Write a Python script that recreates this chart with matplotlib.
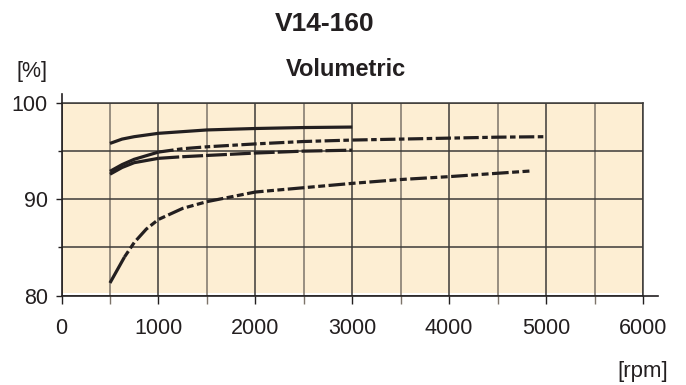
import matplotlib
matplotlib.use("Agg")
import matplotlib.pyplot as plt
from matplotlib.ticker import MultipleLocator
import numpy as np

plt.rcParams['font.family'] = ['Liberation Sans', 'DejaVu Sans']
plt.rcParams['lines.scale_dashes'] = False

# ---- data ----
rpm_a = [500, 625, 750, 1000, 1500, 2000, 2500, 3000]
eff_a = [95.8, 96.25, 96.5, 96.85, 97.2, 97.35, 97.45, 97.5]

rpm_b = [500, 625, 750, 1000, 1250, 1500, 2000, 2500, 3000, 3500, 4000, 4500, 5000]
eff_b = [92.9, 93.6, 94.15, 94.9, 95.25, 95.45, 95.75, 96.0, 96.15, 96.25, 96.35, 96.45, 96.5]

rpm_c = [500, 625, 750, 1000, 1250, 1500, 2000, 2500, 3000]
eff_c = [92.6, 93.3, 93.8, 94.25, 94.42, 94.55, 94.8, 95.0, 95.1]

rpm_d = [500, 550, 650, 750, 875, 1000, 1250, 1500, 2000, 2500, 3000, 3500, 4000, 4500, 4860]
eff_d = [81.3, 82.2, 84.0, 85.5, 86.9, 87.9, 89.05, 89.75, 90.75, 91.2, 91.65, 92.05, 92.35, 92.7, 92.95]

x_ticks = [0, 1000, 2000, 3000, 4000, 5000, 6000]
y_ticks = [80, 90, 100]

title = "V14-160"
subtitle = "Volumetric"
y_unit = "[%]"
x_unit = "[rpm]"

# ---- style ----
W, H = 686, 385
ink = "#231f20"
beige = "#fdeed3"
grid_dark = "#3c3a38"
grid_light = "#7d746a"
lw_curve = 2.3

fig = plt.figure(figsize=(W / 100, H / 100), dpi=100)
ax = fig.add_axes([61.5 / W, 89.5 / H, 581.5 / W, 192.5 / H])

ax.set_xlim(0, 6000)
ax.set_ylim(80, 100)
ax.set_facecolor("white")
ax.axhspan(80.3, 100, color=beige, zorder=0, lw=0)
ax.set_axisbelow(True)

ax.xaxis.set_major_locator(MultipleLocator(1000))
ax.xaxis.set_minor_locator(MultipleLocator(500))
ax.yaxis.set_major_locator(MultipleLocator(10))
ax.yaxis.set_minor_locator(MultipleLocator(5))
ax.set_xticks(x_ticks)
ax.set_yticks(y_ticks)
ax.set_xticklabels([str(v) for v in x_ticks])
ax.set_yticklabels([str(v) for v in y_ticks])

ax.xaxis.grid(True, which="major", color=grid_dark, lw=1.1)
ax.xaxis.grid(True, which="minor", color=grid_light, lw=1.1)
ax.yaxis.grid(True, which="both", color=grid_dark, lw=1.1)

for s in ["top", "right"]:
    ax.spines[s].set_color(grid_dark)
    ax.spines[s].set_linewidth(1.1)
ax.spines["left"].set_visible(False)
ax.spines["bottom"].set_visible(False)
# extended axis lines
ax.plot([0, 1.025], [0, 0], transform=ax.transAxes, color=ink, lw=1.2, clip_on=False, zorder=3)
ax.plot([0, 0], [0, 1.045], transform=ax.transAxes, color=ink, lw=1.2, clip_on=False, zorder=3)

ax.tick_params(axis="x", which="both", direction="out", length=5.5, width=1.0,
               color=ink, labelsize=15.5, labelcolor=ink, pad=10.5)
ax.tick_params(axis="x", which="minor", color=grid_light)
ax.tick_params(axis="y", which="major", direction="out", length=4.5, width=1.0,
               color=ink, labelsize=15.5, labelcolor=ink, pad=5.4)
ax.tick_params(axis="y", which="minor", direction="out", length=3, width=1.0, color=ink)

# ---- curves ----
def plot_split(x, y, split, dashes):
    x = np.asarray(x); y = np.asarray(y)
    m1 = x <= split
    m2 = x >= split
    ax.plot(x[m1], y[m1], color=ink, lw=lw_curve, solid_capstyle="butt", zorder=4)
    ax.plot(x[m2], y[m2], color=ink, lw=lw_curve, dashes=dashes,
            dash_capstyle="butt", zorder=4)

ax.plot(rpm_a, eff_a, color=ink, lw=lw_curve, solid_capstyle="butt", zorder=4)
plot_split(rpm_b, eff_b, 1000, (11, 2.5, 4, 2.5))
plot_split(rpm_c, eff_c, 1000, (15, 2.2))
plot_split(rpm_d, eff_d, 650, (5, 2.5, 5, 2.5, 12, 2.5))

# ---- texts ----
def ftext(x, y, s, **kw):
    fig.text(x / W, 1 - y / H, s, color=ink, **kw)

ftext(325, 31, title, fontsize=19, fontweight="bold", ha="center", va="baseline")
ftext(346, 76, subtitle, fontsize=17, fontweight="bold", ha="center", va="baseline")
ftext(32.5, 77.5, y_unit, fontsize=15.5, ha="center", va="baseline")
ftext(668, 377, x_unit, fontsize=16, ha="right", va="baseline")

fig.savefig("out.png", dpi=100)
